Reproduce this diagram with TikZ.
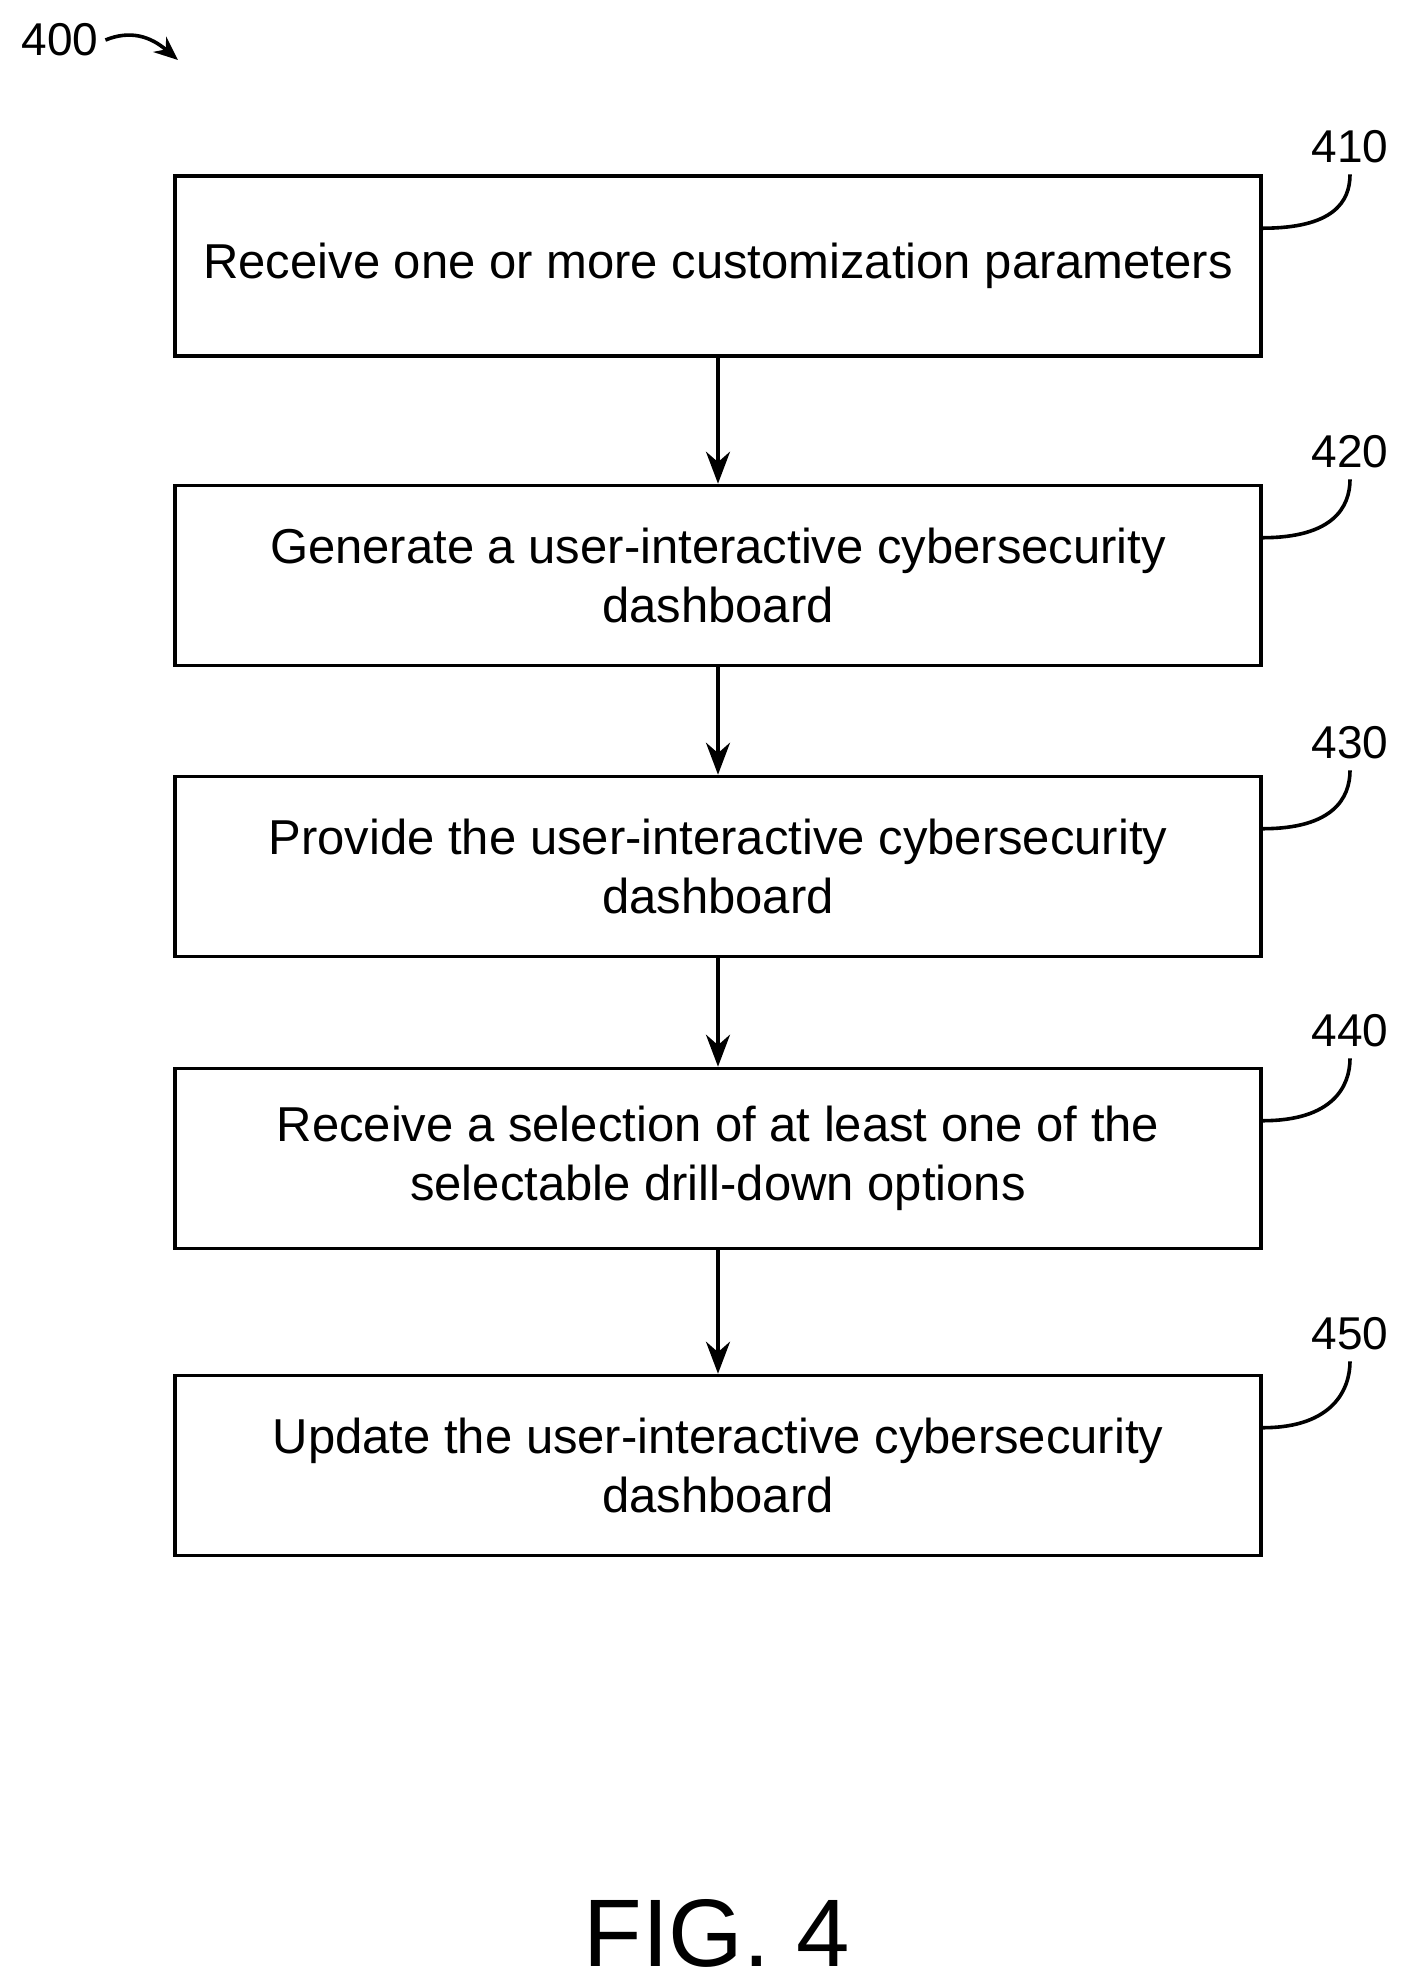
\documentclass[tikz,border=0pt]{standalone}
\usepackage{fontspec}
\setmainfont{Liberation Sans}
\usetikzlibrary{arrows.meta}
\begin{document}
\begin{tikzpicture}[x=0.5pt,y=-0.5pt,
  box/.style={draw,line width=1.8pt,minimum width=543pt,minimum height=90pt,align=center,font=\fontsize{24.5}{29.5}\selectfont,inner sep=0pt},
  lab/.style={font=\fontsize{23}{26}\selectfont},
  arr/.style={line width=1.8pt,-{Stealth[length=16pt,width=12pt]}},
  lead/.style={line width=1.8pt}]
\useasboundingbox (0,0) rectangle (1421,1987);
\node[box] (b1) at (718,266) {Receive one or more customization parameters};
\node[box] (b2) at (718,575.5) {Generate a user-interactive cybersecurity\\dashboard};
\node[box] (b3) at (718,866.5) {Provide the user-interactive cybersecurity\\dashboard};
\node[box] (b4) at (718,1158.5) {Receive a selection of at least one of the\\selectable drill-down options};
\node[box] (b5) at (718,1465.5) {Update the user-interactive cybersecurity\\dashboard};
\draw[arr] (b1) -- (b2);
\draw[arr] (b2) -- (b3);
\draw[arr] (b3) -- (b4);
\draw[arr] (b4) -- (b5);
\foreach \b/\t/\y in {b1/410/147,b2/420/452,b3/430/743,b4/440/1031,b5/450/1334}{
  \node[lab] (l\t) at (1350,\y) {\t};
  \coordinate (s\t) at ([yshift=-27pt]\b.north east);
  \coordinate (e\t) at ([xshift=0pt,yshift=-2pt]l\t.south);
  \draw[lead] (s\t) .. controls ([xshift=35pt]s\t) and ([yshift=-14pt]e\t) .. (e\t);
}
\node[lab] (l400) at (60,40) {400};
\coordinate (e400) at (178,60);
\draw[lead,-{Stealth[length=12pt,width=10pt]}] (l400.east) .. controls (130,30) and (150,36) .. (e400);
\node[font=\fontsize{48}{50}\selectfont] (fig) at (717,1933) {FIG. 4};
\end{tikzpicture}
\end{document}
